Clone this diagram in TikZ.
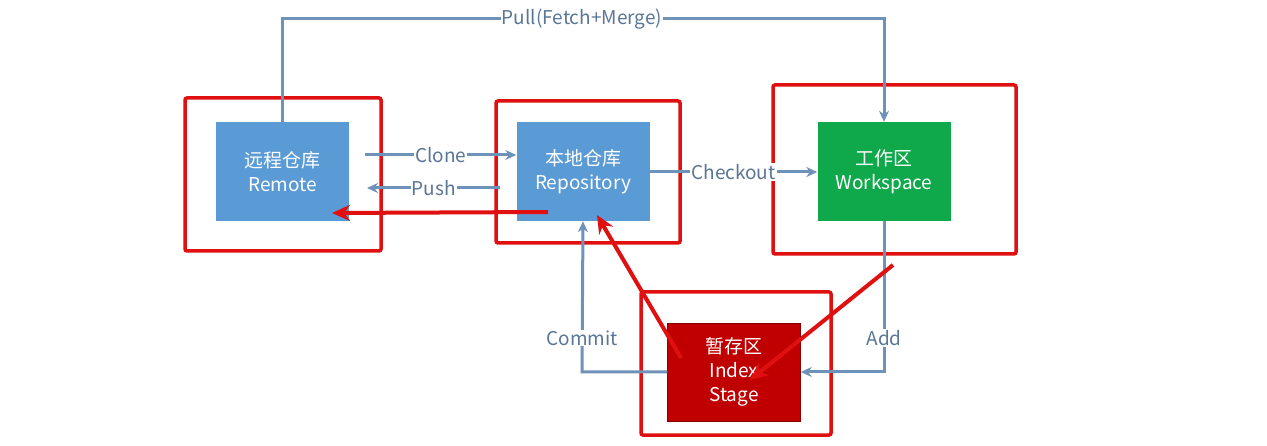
\documentclass[tikz,border=0pt]{standalone}
\usepackage{fontspec}
\setmainfont{Noto Sans CJK SC}
\usetikzlibrary{arrows.meta}
\definecolor{bluebox}{HTML}{5B9BD5}
\definecolor{greenbox}{HTML}{0FA84A}
\definecolor{redbox}{HTML}{C00000}
\definecolor{conn}{HTML}{6F93B8}
\definecolor{lbl}{HTML}{5A7696}
\definecolor{mark}{HTML}{E01010}
\begin{document}
\begin{tikzpicture}[x=1pt,y=-1pt,
  box/.style={minimum width=133pt,minimum height=99pt,inner sep=0pt,text=white,font=\fontsize{19}{24}\selectfont,align=center},
  frame/.style={draw=mark,line width=3.5pt,rounded corners=2pt},
  cn/.style={draw=conn,line width=3pt,-{Stealth[length=11pt,width=10pt]}},
  lb/.style={text=lbl,font=\fontsize{19}{22}\selectfont,fill=white,inner sep=1pt},
  redarr/.style={draw=mark,line width=4pt,-{Stealth[length=18pt,width=16pt]}}]
\useasboundingbox (0,0) rectangle (1267,446);
\fill[white] (0,0) rectangle (1267,446);
% frames
\draw[frame] (185,98) rectangle (381,251);
\draw[frame] (496,101) rectangle (680,243);
\draw[frame] (773,85) rectangle (1016,254);
\draw[frame] (641,292) rectangle (831,435);
% boxes
\node[box,fill=bluebox] (rem) at (282.5,171.5) {远程仓库\\Remote};
\node[box,fill=bluebox] (rep) at (583,171.5) {本地仓库\\Repository};
\node[box,fill=greenbox] (ws) at (884,171.5) {工作区\\Workspace};
\node[box,fill=redbox,minimum height=98pt,draw=redbox!70!black] (idx) at (734,372) {暂存区\\Index\\Stage};
% connectors
\draw[cn] (rem.north) -- ++(0,-103) coordinate (p1) -| (ws.north);
\node[lb] (pl) at (582,19) {Pull(Fetch+Merge)};
\coordinate (c1) at (365,155); \coordinate (c2) at (367,188);
\draw[cn] (c1) -- (rep.west|-c1) node[lb,midway] {Clone};
\draw[cn] (rep.west|-c2) ++(-16,0) coordinate (c3) (c3) -- (c2) node[lb,midway] {Push};
\draw[cn] (rep.east|-0,172) -- (ws.west|-0,172) node[lb,midway] {Checkout};
\draw[cn] (ws.south) -- (884,372) -- (idx.east);
\node[lb] at (884,338) {Add};
\draw[cn] (idx.west) -- (582,372) -- (rep.south);
\node[lb] at (582,338) {Commit};
% red marks
\coordinate (r1) at (548,212); \coordinate (r2) at (332,213);
\draw[redarr] (r1) -- (r2);
\coordinate (r3) at (681,358); \coordinate (r4) at (597,215);
\draw[redarr] (r3) -- (r4);
\coordinate (r5) at (893,265); \coordinate (r6) at (750,380);
\draw[redarr] (r5) -- (r6);
\end{tikzpicture}
\end{document}
